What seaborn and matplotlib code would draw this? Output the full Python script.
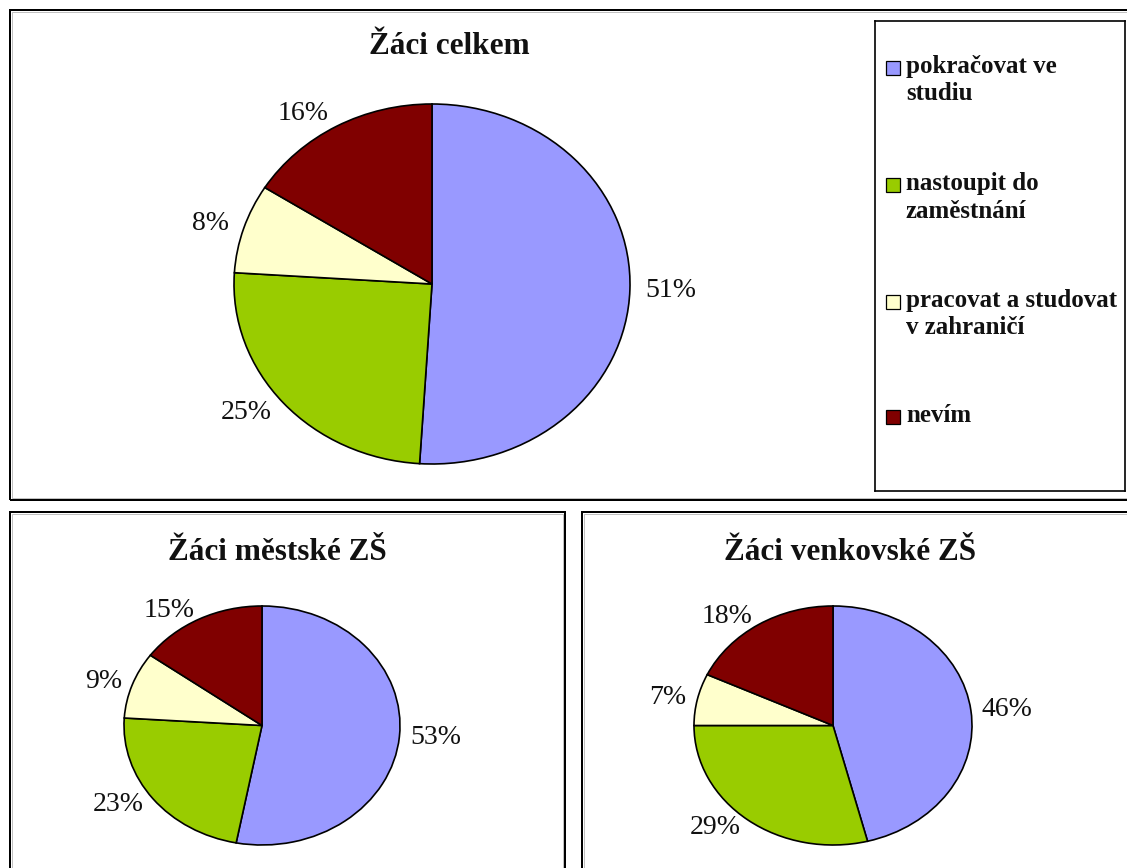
import matplotlib
matplotlib.use("Agg")
import matplotlib.pyplot as plt
from matplotlib.patches import Rectangle
import seaborn as sns

# data
categories = ["pokračovat ve\nstudiu", "nastoupit do\nzaměstnání",
              "pracovat a studovat\nv zahraničí", "nevím"]
celkem = [51, 25, 8, 16]
mestske = [53, 23, 9, 15]
venkovske = [46, 29, 7, 18]
titles = ["Žáci celkem", "Žáci městské ZŠ", "Žáci venkovské ZŠ"]
slice_colors = ["#9999FF", "#99CC00", "#FFFFCC", "#800000"]

W, H = 1127, 868

sns.set_theme(style="white")
plt.rcParams["font.family"] = ["Liberation Serif", "DejaVu Serif"]
palette = sns.color_palette(slice_colors)

fig = plt.figure(figsize=(W / 100, H / 100), dpi=100)
fig.patch.set_facecolor("white")


def px_rect(x0, y0, x1, y1):
    # pixel box (top-left origin) -> figure fraction [left, bottom, w, h]
    return [x0 / W, 1 - y1 / H, (x1 - x0) / W, (y1 - y0) / H]


def frame_box(x0, y0, x1, y1, lw=2.0):
    l, b, w, h = px_rect(x0, y0, x1, y1)
    fig.add_artist(Rectangle((l, b), w, h, transform=fig.transFigure,
                             fill=False, edgecolor="black", linewidth=lw * 0.72))
    # faint grey inner edge like the original screenshot
    l, b, w, h = px_rect(x0 + 2, y0 + 2, x1 - 2, y1 - 2)
    fig.add_artist(Rectangle((l, b), w, h, transform=fig.transFigure,
                             fill=False, edgecolor="#b5b5b5", linewidth=0.6))


# outer boxes
frame_box(10, 10, 1140, 500)
frame_box(10, 512, 565, 880)
frame_box(582, 512, 1140, 880)


def draw_pie(box, values, title, title_xy):
    ax = fig.add_axes(px_rect(*box))
    labels = [f"{v}%" for v in values]
    ax.pie(values, colors=palette, startangle=90, counterclock=False,
           labels=labels, labeldistance=1.08,
           wedgeprops=dict(edgecolor="black", linewidth=1.2),
           textprops=dict(fontsize=20, color="#111111"))
    ax.set_aspect("auto")
    ax.set_xlim(-1, 1)
    ax.set_ylim(-1, 1)
    ax.axis("off")
    fig.text(title_xy[0] / W, 1 - title_xy[1] / H, title, ha="center",
             va="center", fontsize=22.5, fontweight="bold", color="#111111")
    return ax


draw_pie((234, 104, 630, 464), celkem, titles[0], (449, 47))
draw_pie((124, 606, 400, 845), mestske, titles[1], (277, 553))
draw_pie((694, 606, 972, 845), venkovske, titles[2], (850, 553))

# legend box
lax = fig.add_axes(px_rect(875, 21, 1125, 491))
lax.set_xlim(875, 1125)
lax.set_ylim(491, 21)
lax.set_xticks([])
lax.set_yticks([])
for sp in lax.spines.values():
    sp.set_visible(True)
    sp.set_color("black")
    sp.set_linewidth(1.2)

entry_y = [68, 185, 302, 417]
for name, col, y in zip(categories, palette, entry_y):
    lax.add_patch(Rectangle((886, y - 7), 14, 14, facecolor=col,
                            edgecolor="black", linewidth=0.9))
    lax.text(906, y - 13, name, ha="left", va="top", fontsize=18,
             fontweight="bold", linespacing=1.25, color="#111111")

fig.savefig("out.png", dpi=100)
